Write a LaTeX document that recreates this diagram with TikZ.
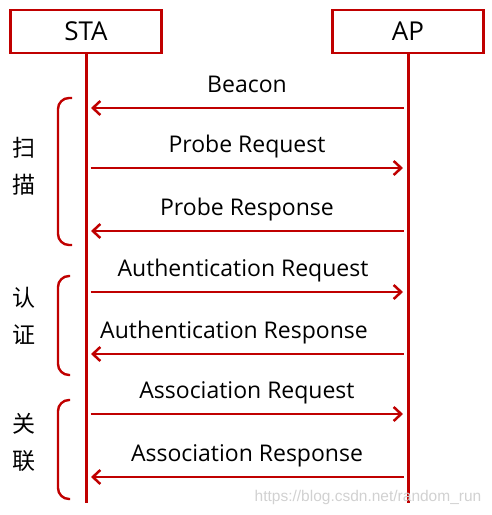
\documentclass[tikz,border=0pt]{standalone}
\usepackage{fontspec}
\setmainfont{Open Sans}
\newfontfamily\cjkfont{Noto Sans CJK SC}
\newfontfamily\markfont{Liberation Sans}
\usetikzlibrary{arrows.meta,positioning}
\definecolor{seqred}{RGB}{192,0,0}

\begin{document}
\begin{tikzpicture}[
    x=1pt, y=-1pt,
    entity/.style={rectangle, draw=seqred, line width=2.8pt, minimum width=151pt, minimum height=43pt, inner sep=0pt, font=\fontsize{26}{30}\selectfont},
    lifeline/.style={draw=seqred, line width=3pt},
    msg/.style={-{Straight Barb[length=7.5pt, width=14pt, line width=2.5pt]}, draw=seqred, line width=2.5pt, shorten <=4.5pt, shorten >=5pt},
    msglabel/.style={font=\fontsize{23}{27}\selectfont, anchor=base, inner sep=0pt, yshift=16pt},
    phase/.style={draw=seqred, line width=2.4pt, rounded corners=11pt},
    phaselabel/.style={font=\cjkfont\fontsize{23}{37}\selectfont, align=center, inner sep=0pt}
]
\useasboundingbox (0,0) rectangle (492,515);

% Entities
\node[entity] (sta) at (86,31.5) {STA};
\node[entity] (ap) at (408,31.5) {AP};

% Lifelines
\coordinate (sta-end) at (86,503);
\coordinate (ap-end) at (408,503);
\draw[lifeline] (sta.south) -- (sta-end);
\draw[lifeline] (ap.south) -- (ap-end);

% Message points
\coordinate (sta-beacon) at (86,108);   \coordinate (ap-beacon) at (408,108);
\coordinate (sta-preq) at (86,168);     \coordinate (ap-preq) at (408,168);
\coordinate (sta-presp) at (86,231);    \coordinate (ap-presp) at (408,231);
\coordinate (sta-areq) at (86,292);     \coordinate (ap-areq) at (408,292);
\coordinate (sta-aresp) at (86,354);    \coordinate (ap-aresp) at (408,354);
\coordinate (sta-asreq) at (86,414);    \coordinate (ap-asreq) at (408,414);
\coordinate (sta-asresp) at (86,477);   \coordinate (ap-asresp) at (408,477);

% Messages
\draw[msg] (ap-beacon) -- node[msglabel] (beacon) {Beacon} (sta-beacon);
\draw[msg] (sta-preq) -- node[msglabel] (preq) {Probe Request} (ap-preq);
\draw[msg] (ap-presp) -- node[msglabel] (presp) {Probe Response} (sta-presp);
\draw[msg] (sta-areq) -- node[msglabel, xshift=-4pt] (areq) {Authentication Request} (ap-areq);
\draw[msg] (ap-aresp) -- node[msglabel, xshift=-13pt] (aresp) {Authentication Response} (sta-aresp);
\draw[msg] (sta-asreq) -- node[msglabel] (asreq) {Association Request} (ap-asreq);
\draw[msg] (ap-asresp) -- node[msglabel] (asresp) {Association Response} (sta-asresp);

% Phases
\draw[phase] (72,98) -- (58,98) -- (58,245) -- (72,245);
\draw[phase] (70,276) -- (58,276) -- (58,375) -- (70,375);
\draw[phase] (70,400) -- (58,400) -- (58,499) -- (70,499);
\node[phaselabel] (scan) at (24,166) {扫\\描};
\node[phaselabel] (auth) at (24,316) {认\\证};
\node[phaselabel] (assoc) at (24,442) {关\\联};

% Watermark
\node[font=\markfont\fontsize{15.5}{17}\selectfont, text=black!18, inner sep=0pt] (mark) at (368,497) {https://blog.csdn.net/random\_run};

\end{tikzpicture}
\end{document}
